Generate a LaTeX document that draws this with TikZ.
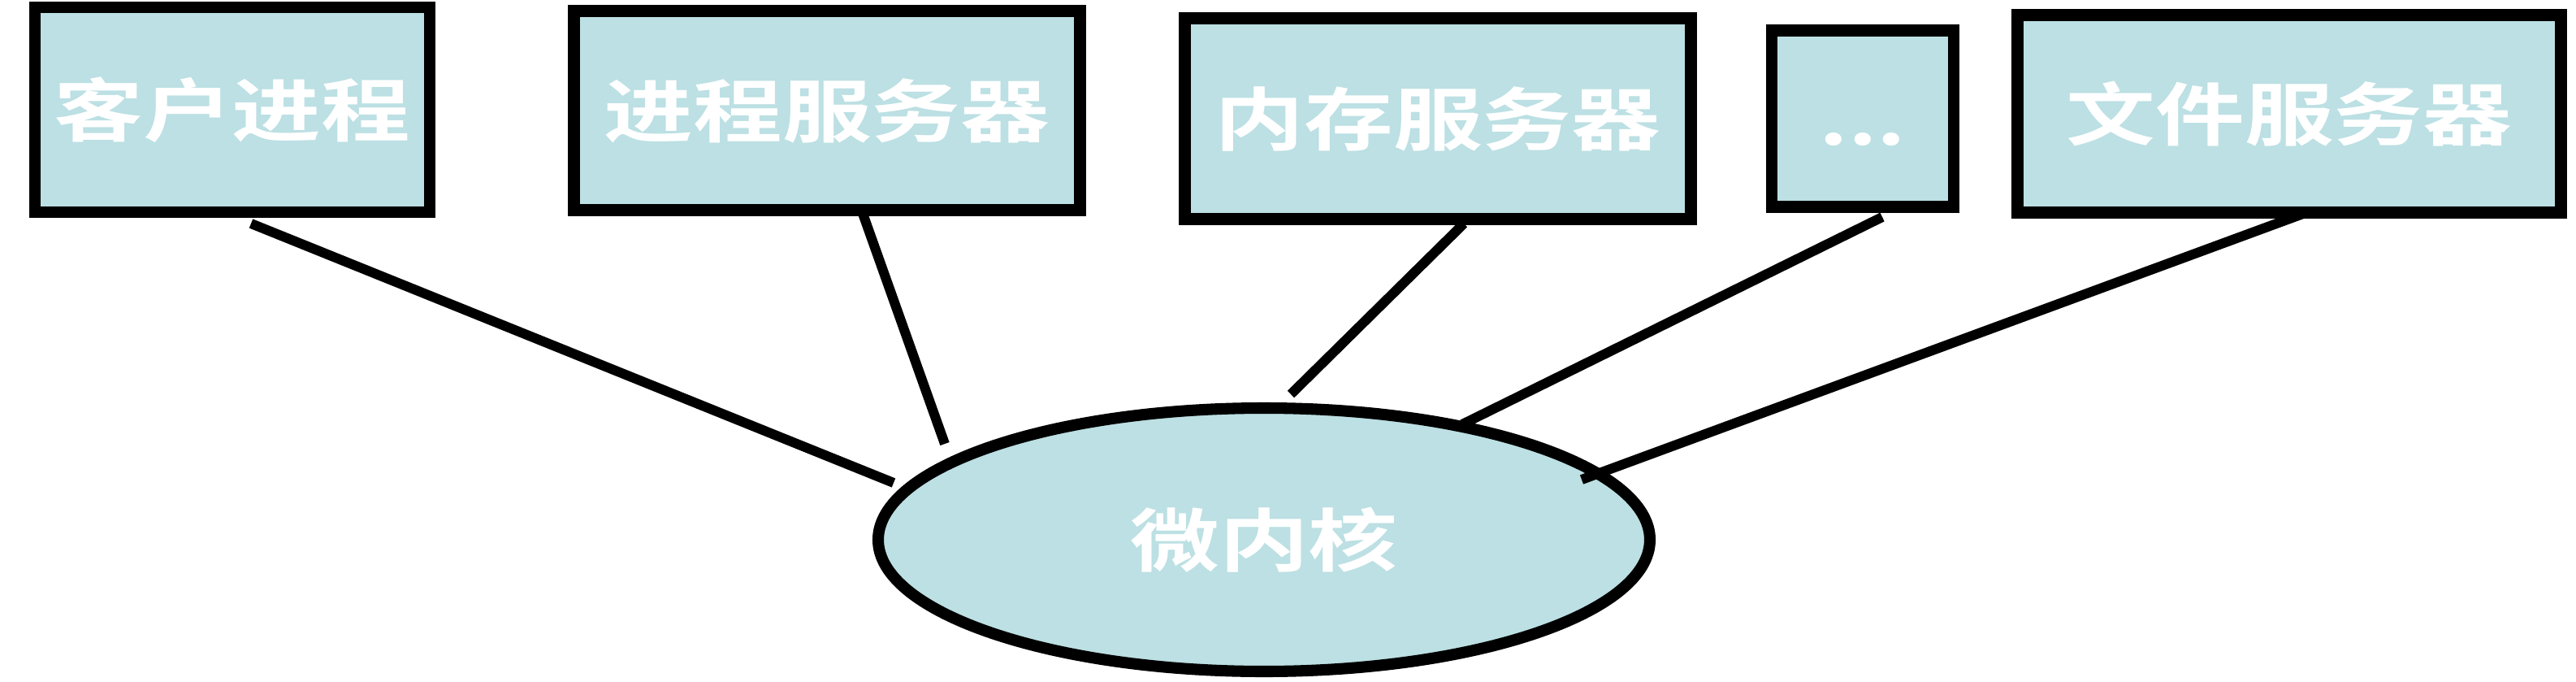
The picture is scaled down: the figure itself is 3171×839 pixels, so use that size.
\documentclass[tikz,border=0pt]{standalone}
\usepackage{fontspec}
\newfontfamily\cjk{Noto Sans CJK SC}[BoldFont={Noto Sans CJK SC Bold}]
\usetikzlibrary{shapes.geometric}
\definecolor{boxfill}{HTML}{BCE0E3}
\newcommand{\widetxt}[1]{\raisebox{-2pt}{\scalebox{1.3}[1]{#1}}}
\tikzset{
  srv/.style={draw=black, line width=4.2pt, fill=boxfill, rectangle, inner sep=0pt,
    text=white, font=\cjk\fontsize{24}{26}\selectfont\bfseries},
  kern/.style={draw=black, line width=4pt, fill=boxfill, ellipse, inner sep=0pt,
    text=white, font=\cjk\fontsize{24}{26}\selectfont\bfseries},
  link/.style={draw=black, line width=3.4pt}
}
\begin{document}
\begin{tikzpicture}[x=0.01cm,y=-0.01cm]
\useasboundingbox (0,0) rectangle (3171,839);
\node[srv, minimum width=486*0.01cm, minimum height=252*0.01cm] (client) at (286,135) {\widetxt{客户进程}};
\node[srv, minimum width=623*0.01cm, minimum height=245*0.01cm] (proc) at (1018,136) {\widetxt{进程服务器}};
\node[srv, minimum width=623*0.01cm, minimum height=247*0.01cm] (mem) at (1770,146) {\widetxt{内存服务器}};
\node[srv, minimum width=224*0.01cm, minimum height=217*0.01cm] (dots) at (2293,146) {\widetxt{\vphantom{客}...}};
\node[srv, minimum width=669*0.01cm, minimum height=243*0.01cm] (file) at (2818,140) {\widetxt{文件服务器}};
\node[kern, minimum width=950*0.01cm, minimum height=324*0.01cm] (mk) at (1556,664) {\widetxt{微内核}};
% connector end points
\coordinate (c1a) at (309,275);  \coordinate (c1b) at (1100,594);
\coordinate (c2a) at (1060,257); \coordinate (c2b) at (1163,546);
\coordinate (c3a) at (1802,275); \coordinate (c3b) at (1589,485);
\coordinate (c4a) at (2317,267); \coordinate (c4b) at (1800,522);
\coordinate (c5a) at (2835,263); \coordinate (c5b) at (1947,590);
\draw[link] (c1a) -- (c1b);
\draw[link] (c2a) -- (c2b);
\draw[link] (c3a) -- (c3b);
\draw[link] (c4a) -- (c4b);
\draw[link] (c5a) -- (c5b);
\end{tikzpicture}
\end{document}
